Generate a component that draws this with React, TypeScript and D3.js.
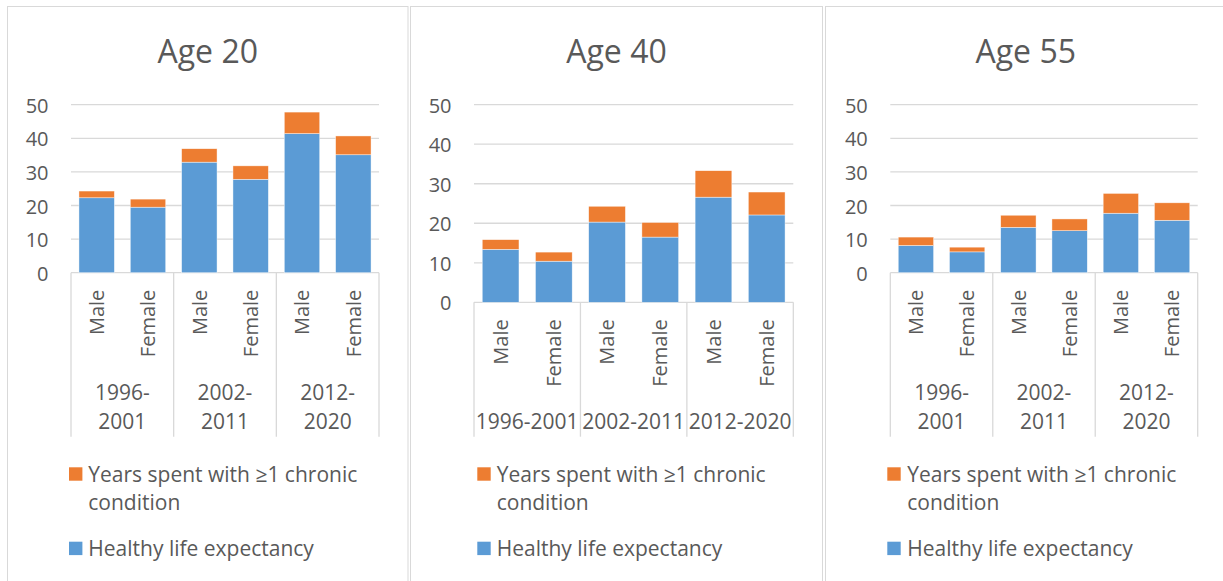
import React from "react";
import * as d3 from "d3";

const ages = ["Age 20", "Age 40", "Age 55"];
const periods = ["1996-2001", "2002-2011", "2012-2020"];
const sexes = ["Male", "Female"];
const yTicks = [0, 10, 20, 30, 40, 50];
const seriesNames = ["Healthy life expectancy", "Years spent with \u22651 chronic condition"];

const healthy20 = [22.3, 19.5, 32.9, 27.8, 41.4, 35.1];
const chronic20 = [2.0, 2.4, 4.0, 4.0, 6.4, 5.6];
const healthy40 = [13.4, 10.4, 20.3, 16.5, 26.6, 22.1];
const chronic40 = [2.45, 2.3, 4.0, 3.7, 6.7, 5.8];
const healthy55 = [8.1, 6.2, 13.5, 12.5, 17.7, 15.6];
const chronic55 = [2.5, 1.4, 3.6, 3.5, 5.9, 5.2];

const healthyAll = [healthy20, healthy40, healthy55];
const chronicAll = [chronic20, chronic40, chronic55];

const BLUE = "#5B9BD5";
const ORANGE = "#ED7D31";
const TEXT = "#595959";
const GRID = "#d9d9d9";
const FONT = "'Open Sans', sans-serif";

const layouts = [
  { bx0: 7.5, bx1: 408, px0: 71, px1: 379, y0: 272.7, wrap: true, swX: 69, txX: 88.3 },
  { bx0: 410.5, bx1: 822.5, px0: 474, px1: 793.3, y0: 302.3, wrap: false, swX: 477.3, txX: 496.7 },
  { bx0: 825.5, bx1: 1226, px0: 890.3, px1: 1197.7, y0: 272.7, wrap: true, swX: 887.3, txX: 907.3 },
];

function Panel({ idx }: { idx: number }) {
  const L = layouts[idx];
  const healthy = healthyAll[idx];
  const chronic = chronicAll[idx];
  const cats = periods.flatMap((p) => sexes.map((s) => `${p}|${s}`));
  const rows = cats.map((c, i) => ({ cat: c, healthy: healthy[i], chronic: chronic[i] }));
  const stack = d3.stack<any>().keys(["healthy", "chronic"])(rows);

  const x = d3.scaleBand().domain(cats).range([L.px0, L.px1]).paddingInner(0.31).paddingOuter(0.155);
  const xg = d3.scaleBand().domain(periods).range([L.px0, L.px1]);
  const y = d3.scaleLinear().domain([0, 50]).range([L.y0, 104.7]);
  const bandStep = (L.px1 - L.px0) / cats.length;
  const axisBottom = 436.7;
  const cx = (L.bx0 + L.bx1) / 2;

  return (
    <g>
      <rect x={L.bx0} y={6.5} width={L.bx1 - L.bx0} height={600} fill="#fff" stroke={GRID} strokeWidth={1} />
      <text x={cx} y={62.7} textAnchor="middle" fontSize={32} fill={TEXT} fontFamily={FONT}>
        {ages[idx]}
      </text>
      {yTicks.map((t) => (
        <g key={t}>
          <line x1={L.px0} x2={L.px1} y1={y(t)} y2={y(t)} stroke={GRID} strokeWidth={1.3} />
          <text x={L.px0 - 22.5} y={y(t) + 8} textAnchor="end" fontSize={20} fill={TEXT} fontFamily={FONT}>
            {t}
          </text>
        </g>
      ))}
      {stack.map((s, si) => (
        <g key={si} fill={si === 0 ? BLUE : ORANGE}>
          {s.map((d, i) => (
            <rect
              key={i}
              x={x(cats[i])}
              width={x.bandwidth()}
              y={y(d[1])}
              height={y(d[0]) - y(d[1])}
              stroke="#fff"
              strokeWidth={0.6}
              strokeOpacity={0.7}
            />
          ))}
        </g>
      ))}
      {/* category axis box lines */}
      {periods.map((p) => (
        <line key={p} x1={xg(p)} x2={xg(p)} y1={L.y0} y2={axisBottom} stroke={GRID} strokeWidth={1.3} />
      ))}
      <line x1={L.px1} x2={L.px1} y1={L.y0} y2={axisBottom} stroke={GRID} strokeWidth={1.3} />
      {cats.map((c, i) => {
        const bx = (x(c) as number) + x.bandwidth() / 2;
        const ty = L.y0 + 17;
        return (
          <text
            key={c}
            transform={`translate(${bx},${ty}) rotate(-90)`}
            textAnchor="end"
            dy="0.36em"
            fontSize={20}
            fill={TEXT}
            fontFamily={FONT}
          >
            {c.split("|")[1]}
          </text>
        );
      })}
      {periods.map((p) => {
        const gx = (xg(p) as number) + xg.bandwidth() / 2;
        if (L.wrap) {
          const parts = p.split("-");
          return (
            <text key={p} textAnchor="middle" fontSize={21} fill={TEXT} fontFamily={FONT}>
              <tspan x={gx} y={400}>{parts[0] + "-"}</tspan>
              <tspan x={gx} y={429.3}>{parts[1]}</tspan>
            </text>
          );
        }
        return (
          <text key={p} x={gx} y={429.3} textAnchor="middle" fontSize={21} fill={TEXT} fontFamily={FONT}>
            {p}
          </text>
        );
      })}
      {/* legend */}
      <rect x={L.swX} y={467.3} width={13.4} height={13.4} fill={ORANGE} />
      <text fontSize={21} fill={TEXT} fontFamily={FONT}>
        <tspan x={L.txX} y={481.7}>{seriesNames[1].split(" condition")[0]}</tspan>
        <tspan x={L.txX} y={510}>condition</tspan>
      </text>
      <rect x={L.swX} y={541.7} width={13.4} height={13.4} fill={BLUE} />
      <text x={L.txX} y={556} fontSize={21} fill={TEXT} fontFamily={FONT}>
        {seriesNames[0]}
      </text>
    </g>
  );
}

export default function App() {
  return (
    <svg
      width={1223}
      height={581}
      style={{ position: "absolute", left: 0, top: 0, background: "#fff" }}
    >
      <rect x={0} y={0} width={1223} height={581} fill="#fff" />
      {ages.map((a, i) => (
        <Panel key={a} idx={i} />
      ))}
    </svg>
  );
}
